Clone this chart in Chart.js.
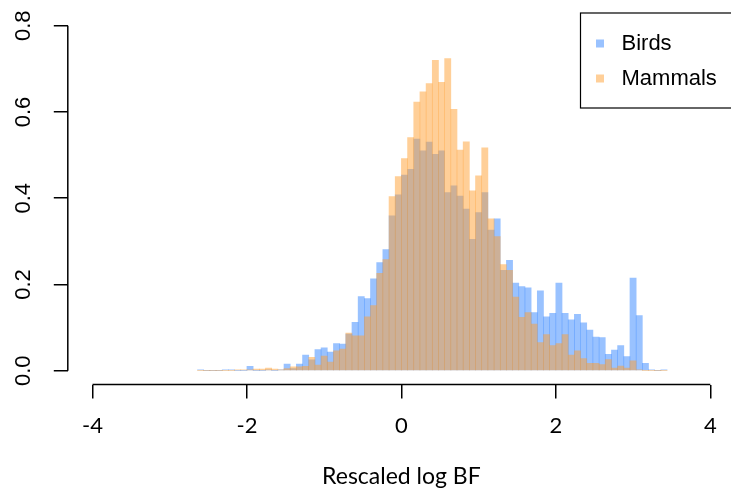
<!DOCTYPE html>
<html>
<head>
<meta charset="utf-8">
<script src="https://cdn.jsdelivr.net/npm/chart.js@4.4.0/dist/chart.umd.min.js"></script>
<style>
  html, body { margin: 0; padding: 0; background: #fff; overflow: hidden; }
  #wrap { width: 731px; height: 495px; overflow: hidden; }
  canvas { display: block; }
</style>
</head>
<body>
<div id="wrap"><canvas id="c" width="735" height="495"></canvas></div>
<script>
const canvas = document.getElementById("c")

// histogram bins (width 0.08), given by their centres
const bin_centers = [
  -2.60, -2.52, -2.44, -2.36, -2.28, -2.20, -2.12, -2.04, -1.96, -1.88,
  -1.80, -1.72, -1.64, -1.56, -1.48, -1.40, -1.32, -1.24, -1.16, -1.08,
  -1.00, -0.92, -0.84, -0.76, -0.68, -0.60, -0.52, -0.44, -0.36, -0.28,
  -0.20, -0.12, -0.04, 0.04, 0.12, 0.20, 0.28, 0.36, 0.44, 0.52,
  0.60, 0.68, 0.76, 0.84, 0.92, 1.00, 1.08, 1.16, 1.24, 1.32,
  1.40, 1.48, 1.56, 1.64, 1.72, 1.80, 1.88, 1.96, 2.04, 2.12,
  2.20, 2.28, 2.36, 2.44, 2.52, 2.60, 2.68, 2.76, 2.84, 2.92,
  3.00, 3.08, 3.16, 3.24, 3.32, 3.40
]

const birds = [
  0.002, 0, 0, 0, 0.002, 0.002, 0, 0, 0.010, 0,
  0, 0.002, 0, 0.002, 0.0155, 0.005, 0.0155, 0.036, 0.025, 0.049,
  0.053, 0.043, 0.063, 0.062, 0.085, 0.112, 0.172, 0.167, 0.213, 0.251,
  0.281, 0.359, 0.408, 0.454, 0.467, 0.537, 0.510, 0.530, 0.502, 0.510,
  0.413, 0.429, 0.405, 0.375, 0.305, 0.367, 0.413, 0.326, 0.352, 0.233,
  0.256, 0.203, 0.195, 0.192, 0.135, 0.185, 0.125, 0.133, 0.203, 0.133,
  0.118, 0.131, 0.111, 0.094, 0.078, 0.077, 0.038, 0.048, 0.058, 0.033,
  0.215, 0.128, 0.017, 0.002, 0, 0.002
]

const mammals = [
  0, 0, 0, 0, 0, 0, 0.002, 0.002, 0.002, 0.004,
  0.004, 0.006, 0.004, 0.002, 0.005, 0.009, 0.009, 0.010, 0.031, 0.013,
  0.034, 0.020, 0.046, 0.050, 0.087, 0.081, 0.081, 0.125, 0.151, 0.226,
  0.258, 0.404, 0.450, 0.492, 0.541, 0.623, 0.647, 0.666, 0.720, 0.669,
  0.724, 0.606, 0.512, 0.531, 0.417, 0.452, 0.517, 0.352, 0.311, 0.246,
  0.233, 0.171, 0.124, 0.135, 0.108, 0.065, 0.084, 0.058, 0.063, 0.084,
  0.036, 0.046, 0.028, 0.017, 0.017, 0.014, 0.026, 0.006, 0.011, 0.006,
  0.023, 0.002, 0, 0, 0, 0
]

const series_names = ["Birds", "Mammals"]
const x_ticks = [-4, -2, 0, 2, 4]
const y_ticks = [0, 0.2, 0.4, 0.6, 0.8]
const x_title = "Rescaled log BF"

const blue = "rgba(51,133,255,0.5)"
const orange = "rgba(255,160,50,0.5)"

function to_points(values){
    return bin_centers.map((x, i) => ({x: x, y: values[i]}))
}

// R style: axis lines only span first..last tick, legend box in top right
const r_axes = {
    id: "r_axes",
    afterDraw(chart){
        const {ctx, chartArea, scales} = chart
        ctx.save()
        ctx.strokeStyle = "#000"
        ctx.lineWidth = 1.5
        ctx.beginPath()
        ctx.moveTo(scales.x.getPixelForValue(x_ticks[0]), chartArea.bottom)
        ctx.lineTo(scales.x.getPixelForValue(x_ticks[x_ticks.length - 1]), chartArea.bottom)
        ctx.moveTo(chartArea.left, scales.y.getPixelForValue(y_ticks[0]))
        ctx.lineTo(chartArea.left, scales.y.getPixelForValue(y_ticks[y_ticks.length - 1]))
        ctx.stroke()

        const lg_w = 155, lg_h = 95
        const lx = chartArea.right - lg_w, ly = chartArea.top + 0.5
        ctx.lineWidth = 1.2
        ctx.strokeRect(lx + 0.5, ly + 0.5, lg_w, lg_h)
        ctx.font = '22px "Liberation Sans", Arial, sans-serif'
        ctx.textBaseline = "middle"
        ctx.textAlign = "left"
        const legend_order = [1, 0]
        legend_order.forEach((di, i) => {
            const ds = chart.data.datasets[di]
            const cy = ly + 31 + i * 35
            ctx.fillStyle = ds.backgroundColor
            ctx.fillRect(lx + 16, cy - 4, 8, 8)
            ctx.fillStyle = "#000"
            ctx.fillText(ds.label, lx + 41.5, cy)
        })
        ctx.restore()
    }
}

function no_side_padding(s){
    s.paddingTop = 0
    s.paddingBottom = 0
    s.paddingLeft = 0
    s.paddingRight = 0
}

const my_chart = new Chart(canvas.getContext("2d"), {
    type: "bar",
    data: {
        datasets: [
            {label: series_names[1], data: to_points(mammals), backgroundColor: orange, order: 0},
            {label: series_names[0], data: to_points(birds), backgroundColor: blue, order: 1}
        ]
    },
    options: {
        responsive: false,
        animation: false,
        layout: {padding: {top: 12, left: 0, right: 0, bottom: 0}},
        datasets: {bar: {grouped: false, barPercentage: 1, categoryPercentage: 1, borderWidth: 0}},
        plugins: {legend: {display: false}, tooltip: {enabled: false}},
        scales: {
            x: {
                type: "linear",
                min: -4.32,
                max: 4.32,
                offset: false,
                afterBuildTicks: s => { s.ticks = x_ticks.map(v => ({value: v})) },
                afterFit: s => { s.height = 110.5; no_side_padding(s) },
                grid: {offset: false, drawOnChartArea: false, drawTicks: true, tickLength: 14, color: "#000", lineWidth: 1.5},
                border: {display: false},
                ticks: {
                    autoSkip: false, maxRotation: 0, padding: 14, color: "#000",
                    font: {family: "Lato", size: 22},
                    callback: v => String(v)
                },
                title: {
                    display: true, text: x_title, color: "#000",
                    font: {family: "Lato", size: 23},
                    padding: {top: 0, bottom: 5}
                }
            },
            y: {
                type: "linear",
                min: -0.032,
                max: 0.832,
                afterBuildTicks: s => { s.ticks = y_ticks.map(v => ({value: v})) },
                afterFit: s => { s.width = 67.8; no_side_padding(s) },
                grid: {drawOnChartArea: false, drawTicks: true, tickLength: 14, color: "#000", lineWidth: 1.5},
                border: {display: false},
                ticks: {
                    autoSkip: false, minRotation: 90, maxRotation: 90, crossAlign: "center",
                    padding: 15, color: "#000",
                    font: {family: "Liberation Sans", size: 22},
                    callback: v => v.toFixed(1)
                }
            }
        }
    },
    plugins: [r_axes]
})
</script>
</body>
</html>
